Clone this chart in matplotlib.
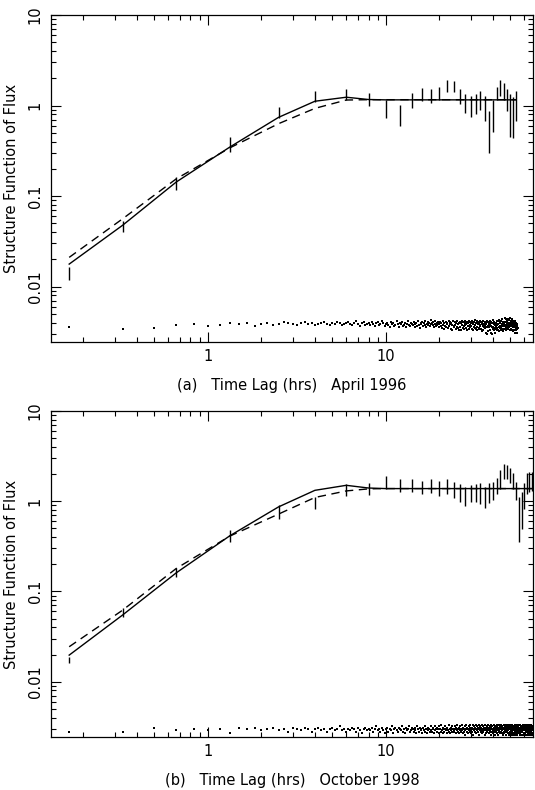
import numpy as np
import matplotlib
matplotlib.use("Agg")
import matplotlib.pyplot as plt
from matplotlib.ticker import LogLocator, NullFormatter

# ---- panel (a): April 1996 ----
lag_a = [0.167, 0.333, 0.667, 1.33, 2.5, 4, 6, 8, 10, 12, 14, 16, 18, 20, 22,
         24, 26, 28, 30, 32, 34, 36, 38, 40, 42, 44, 46, 48, 50, 52, 54]
lo_a = [0.0118, 0.040, 0.118, 0.306, 0.72, 1.09, 1.155, 0.98, 0.73, 0.59, 0.93,
        1.11, 1.07, 1.16, 1.40, 1.40, 1.04, 0.82, 0.74, 0.81, 0.90, 0.67, 0.30,
        0.51, 1.14, 1.29, 1.15, 0.87, 0.45, 0.44, 0.67]
hi_a = [0.0165, 0.053, 0.162, 0.448, 0.975, 1.43, 1.53, 1.38, 1.165, 1.02, 1.37,
        1.57, 1.53, 1.62, 1.92, 1.88, 1.53, 1.35, 1.27, 1.35, 1.46, 1.26, 0.88,
        1.15, 1.62, 1.92, 1.76, 1.53, 1.35, 1.23, 1.46]
fit_a = [0.0177, 0.0475, 0.143, 0.347, 0.74, 1.115, 1.235, 1.165] + [1.155] * 23
model_a = [0.021, 0.056, 0.155, 0.34, 0.63, 0.93, 1.15, 1.16] + [1.16] * 23

# noise level per 10-minute lag bin (units of 1e-4)
noise_a = [
    36, 34, 35, 38, 39, 37, 38, 40, 39, 40, 37, 39,
    40, 38, 39, 41, 40, 39, 38, 40, 41, 39, 40, 38,
    39, 40, 41, 39, 38, 40, 39, 41, 40, 38, 39, 40,
    41, 39, 38, 40, 42, 39, 37, 40, 41, 38, 39, 40,
    38, 41, 39, 37, 40, 41, 38, 39, 42, 40, 37, 39,
    40, 38, 36, 41, 39, 40, 37, 38, 42, 39, 36, 40,
    39, 41, 37, 38, 40, 36, 39, 42, 38, 37, 40, 39,
    38, 41, 36, 39, 40, 37, 42, 38, 35, 40, 39, 41,
    37, 40, 38, 42, 36, 39, 41, 38, 40, 37, 43, 39,
    40, 38, 41, 36, 39, 42, 37, 40, 38, 41, 39, 36,
    41, 37, 40, 35, 42, 38, 34, 40, 37, 41, 36, 39,
    40, 35, 42, 37, 39, 41, 34, 40, 33, 38, 42, 36,
    37, 41, 38, 34, 40, 36, 42, 35, 39, 40, 33, 41,
    36, 40, 33, 42, 38, 35, 41, 37, 34, 40, 38, 42,
    35, 39, 41, 33, 40, 37, 42, 34, 38, 41, 36, 40,
    37, 42, 34, 39, 40, 33, 41, 36, 35, 43, 38, 34,
    40, 36, 42, 33, 39, 41, 35, 40, 34, 42, 37, 38,
    41, 34, 39, 32, 40, 37, 42, 33, 39, 36, 41, 37,
    35, 40, 31, 39, 42, 36, 30, 41, 37, 32, 40, 38,
    36, 42, 33, 39, 31, 41, 37, 30, 40, 36, 43, 34,
    36, 39, 33, 41, 35, 38, 31, 40, 34, 37, 42, 33,
    38, 35, 42, 33, 39, 36, 43, 32, 40, 35, 37, 41,
    36, 42, 33, 39, 37, 44, 34, 38, 41, 32, 40, 37,
    39, 34, 45, 37, 41, 35, 44, 38, 33, 42, 39, 36,
    41, 37, 44, 34, 40, 43, 36, 38, 45, 33, 40, 37,
    38, 42, 34, 40, 37, 44, 33, 41, 36, 39, 32, 42,
    37, 40, 33, 41, 36, 39, 31, 42, 35, 38, 40, 33,
    36, 39, 34, 37, 31, 35,
]

# ---- panel (b): October 1998 ----
lag_b = [0.167, 0.333, 0.667, 1.33, 2.5, 4, 6, 8, 10, 12, 14, 16, 18, 20, 22,
         24, 26, 28, 30, 32, 34, 36, 38, 40, 42, 44, 46, 48, 50, 52, 54, 56, 58,
         60, 62, 64, 66]
lo_b = [0.016, 0.0515, 0.145, 0.354, 0.63, 0.81, 1.14, 1.17, 1.36, 1.27, 1.25,
        1.19, 1.22, 1.14, 1.19, 1.09, 0.98, 0.89, 0.97, 0.98, 0.94, 0.85, 0.96,
        1.03, 1.19, 1.38, 1.78, 1.74, 1.60, 1.35, 1.03, 0.354, 0.49, 0.83, 1.19,
        1.27, 1.30]
hi_b = [0.0189, 0.065, 0.18, 0.477, 0.90, 1.12, 1.57, 1.60, 1.89, 1.74, 1.74,
        1.66, 1.74, 1.68, 1.74, 1.64, 1.54, 1.44, 1.53, 1.57, 1.61, 1.44, 1.60,
        1.64, 1.81, 2.20, 2.57, 2.50, 2.36, 2.06, 1.64, 1.12, 1.27, 1.60, 2.03,
        2.11, 2.10]
fit_b = [0.0197, 0.0548, 0.161, 0.413, 0.865, 1.32, 1.50, 1.40] + [1.38] * 29
model_b = [0.0244, 0.062, 0.18, 0.41, 0.72, 1.10, 1.30, 1.37] + [1.38] * 29

noise_b = [
    28, 28, 31, 29, 30, 29, 30, 27, 31, 30, 31, 29,
    30, 31, 29, 30, 28, 31, 30, 29, 31, 30, 28, 30,
    31, 29, 30, 28, 30, 31, 29, 30, 32, 29, 30, 28,
    30, 29, 31, 30, 28, 31, 29, 27, 30, 31, 29, 30,
    29, 31, 28, 30, 32, 29, 30, 28, 31, 29, 27, 30,
    31, 28, 30, 29, 32, 27, 30, 31, 29, 28, 31, 30,
    29, 32, 28, 30, 27, 31, 29, 30, 32, 28, 29, 31,
    30, 28, 31, 29, 27, 32, 30, 28, 31, 29, 30, 27,
    31, 29, 28, 32, 30, 27, 31, 29, 30, 28, 32, 29,
    28, 31, 30, 27, 32, 29, 30, 28, 31, 30, 27, 32,
    30, 28, 33, 29, 27, 31, 30, 28, 32, 29, 30, 27,
    31, 29, 28, 33, 30, 27, 31, 29, 32, 28, 30, 29,
    28, 32, 30, 27, 31, 29, 33, 28, 30, 31, 27, 29,
    32, 28, 30, 29, 33, 27, 31, 30, 28, 32, 29, 26,
    30, 33, 28, 31, 27, 30, 32, 29, 28, 31, 33, 27,
    29, 31, 28, 33, 30, 26, 32, 29, 31, 28, 30, 33,
    27, 30, 32, 29, 31, 28, 33, 26, 30, 31, 29, 32,
    28, 31, 29, 33, 27, 30, 32, 28, 31, 29, 26, 30,
    33, 29, 31, 27, 30, 32, 28, 31, 29, 33, 27, 30,
    31, 28, 32, 29, 26, 31, 33, 28, 30, 32, 27, 29,
    30, 33, 28, 31, 29, 26, 32, 30, 28, 31, 33, 27,
    29, 32, 30, 26, 31, 28, 33, 29, 30, 27, 32, 31,
    28, 30, 33, 27, 31, 29, 32, 26, 30, 31, 28, 33,
    31, 27, 29, 32, 30, 28, 33, 26, 31, 29, 32, 28,
    30, 33, 27, 31, 29, 26, 32, 30, 28, 31, 33, 27,
    29, 31, 26, 32, 30, 28, 33, 27, 31, 29, 26, 32,
    30, 27, 32, 29, 31, 26, 33, 28, 30, 32, 27, 29,
    31, 28, 30, 33, 26, 29, 32, 30, 27, 31, 28, 33,
    29, 26, 31, 30, 33, 27, 29, 32, 28, 26, 31, 30,
    32, 28, 30, 26, 33, 29, 31, 27, 30, 32, 26, 29,
    31, 27, 33, 29, 26, 30, 32, 28, 31, 26, 29, 33,
    28, 31, 26, 30, 32, 29, 27, 33, 30, 26, 31, 28,
    30, 26, 32, 29, 27, 31, 33, 28, 26, 30, 32, 29,
    27, 31, 29, 26,
]

bin_step = 1.0 / 6.0   # noise points are computed every 10 minutes of lag
xlim = (0.132, 67.0)
ylim = (0.00244, 10.0)


def draw_panel(ax, lag, lo, hi, fit, model, noise, label):
    ax.set_xscale("log")
    ax.set_yscale("log")

    noise = np.array(noise) * 1e-4
    noise_lag = np.arange(1, len(noise) + 1) * bin_step
    ax.plot(noise_lag, noise, ls="none", marker="s", ms=1.8, mew=0, color="black")

    ax.vlines(lag, lo, hi, color="black", lw=1.0)
    ax.plot(lag, fit, color="black", lw=1.0)
    ax.plot(lag, model, color="black", lw=1.0, ls=(0, (6, 4)))

    ax.set_xlim(*xlim)
    ax.set_ylim(*ylim)

    ax.set_xticks([1, 10])
    ax.set_xticklabels(["1", "10"])
    ax.set_yticks([0.01, 0.1, 1, 10])
    ax.set_yticklabels(["0.01", "0.1", "1", "10"])
    ax.xaxis.set_minor_locator(LogLocator(base=10, subs=np.arange(2, 10), numticks=20))
    ax.yaxis.set_minor_locator(LogLocator(base=10, subs=np.arange(2, 10), numticks=20))
    ax.xaxis.set_minor_formatter(NullFormatter())
    ax.yaxis.set_minor_formatter(NullFormatter())

    ax.tick_params(which="both", direction="in", top=True, right=True,
                   width=0.8, labelsize=10.5)
    ax.tick_params(which="major", length=7)
    ax.tick_params(which="minor", length=3.5)
    ax.tick_params(axis="x", pad=5)
    ax.tick_params(axis="y", pad=6, labelrotation=90)
    for lab in ax.get_yticklabels():
        lab.set_va("center")

    for s in ax.spines.values():
        s.set_linewidth(0.9)

    ax.set_xlabel(label, fontsize=10.5, labelpad=10)
    ax.set_ylabel("Structure Function of Flux", fontsize=10.5, labelpad=6)


def main():
    fig = plt.figure(figsize=(5.35, 7.9), dpi=100)
    ax_a = fig.add_axes([0.0953, 0.5671, 0.9009, 0.4139])
    ax_b = fig.add_axes([0.0953, 0.0671, 0.9009, 0.4127])

    draw_panel(ax_a, lag_a, lo_a, hi_a, fit_a, model_a, noise_a,
               "(a)   Time Lag (hrs)   April 1996")
    draw_panel(ax_b, lag_b, lo_b, hi_b, fit_b, model_b, noise_b,
               "(b)   Time Lag (hrs)   October 1998")

    fig.savefig("out.png", dpi=100)


if __name__ == "__main__":
    main()
